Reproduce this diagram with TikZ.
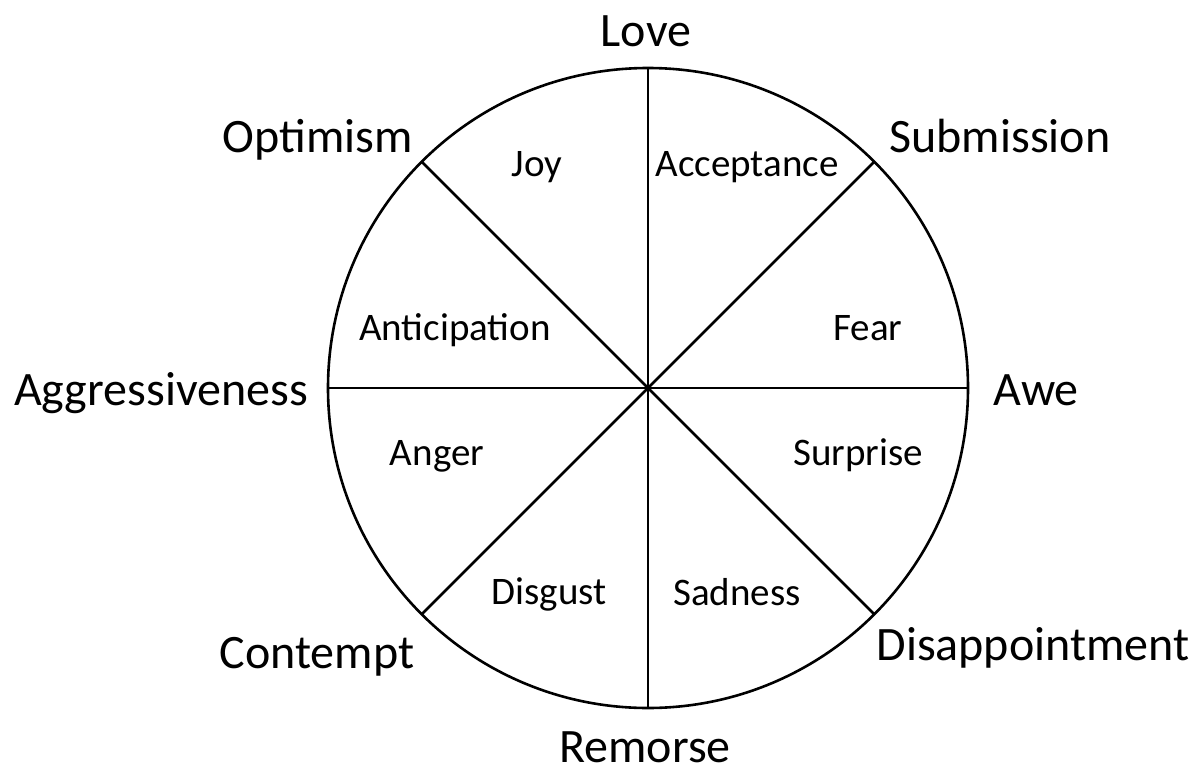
\documentclass[tikz,border=0pt]{standalone}
\usepackage{fontspec}
\setmainfont{Carlito}
\begin{document}
\begin{tikzpicture}[x=1pt,y=-1pt,
  wheel/.style={line width=2.6pt},
  outer/.style={anchor=base,inner sep=0pt,font=\fontsize{48}{56}\selectfont},
  inner/.style={anchor=base,inner sep=0pt,font=\fontsize{39}{46}\selectfont}]
\useasboundingbox (0,0) rectangle (1201,771);
\coordinate (c) at (648,388);
\draw[wheel] (c) circle (320);
\coordinate (n) at (648,68);
\coordinate (s) at (648,708);
\coordinate (w) at (328,388);
\coordinate (e) at (968,388);
\coordinate (nw) at (421.7,161.7);
\coordinate (ne) at (874.3,161.7);
\coordinate (sw) at (421.7,614.3);
\coordinate (se) at (874.3,614.3);
\draw[wheel] (n) -- (s);
\draw[wheel] (w) -- (e);
\draw[wheel] (nw) -- (se);
\draw[wheel] (ne) -- (sw);
% outer labels
\node[outer] (love) at (646,46) {Love};
\node[outer] (opt) at (318,152) {Optimism};
\node[outer] (sub) at (1000,152) {Submission};
\node[outer] (agg) at (161,405) {Aggressiveness};
\node[outer] (awe) at (1036,405) {Awe};
\node[outer] (con) at (317,668) {Contempt};
\node[outer] (dis) at (1033,660) {Disappointment};
\node[outer] (rem) at (645,762) {Remorse};
% inner labels
\node[inner] (joy) at (537,176) {Joy};
\node[inner] (acc) at (747,176) {Acceptance};
\node[inner] (ant) at (455,340) {Anticipation};
\node[inner] (fear) at (868,340) {Fear};
\node[inner] (ang) at (437,465) {Anger};
\node[inner] (sur) at (858,465) {Surprise};
\node[inner] (dsg) at (549,604) {Disgust};
\node[inner] (sad) at (737,605) {Sadness};
\end{tikzpicture}
\end{document}
